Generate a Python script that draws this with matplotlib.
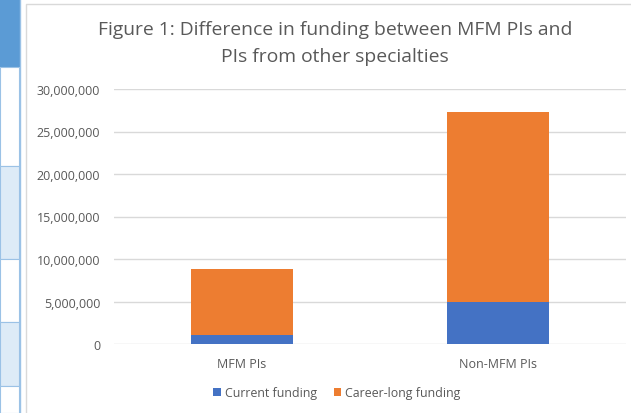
import matplotlib
matplotlib.use("Agg")
import matplotlib.pyplot as plt
from matplotlib.patches import Rectangle
from matplotlib.lines import Line2D
from matplotlib.ticker import FuncFormatter

categories = ["MFM PIs", "Non-MFM PIs"]
current_funding = [1050000, 4900000]
career_long_funding = [7800000, 22400000]
series_names = ["Current funding", "Career-long funding"]
yticks = [0, 5000000, 10000000, 15000000, 20000000, 25000000, 30000000]

W, H = 631, 414
fig = plt.figure(figsize=(W / 100, H / 100), dpi=100)
plt.rcParams['font.family'] = ['Open Sans', 'DejaVu Sans']

def fx(px):
    return px / W

def fy(py):
    return 1 - py / H

# Spreadsheet artifacts at left
fig.patches.append(Rectangle((0, fy(68)), fx(20), 68 / H, transform=fig.transFigure,
                             facecolor="#5B9BD5", edgecolor="none"))
for top, bot, col in [(68, 167, "white"), (167, 260, "#DDEBF7"), (260, 323, "white"),
                      (323, 387, "#DDEBF7"), (387, 414, "white")]:
    fig.patches.append(Rectangle((0, fy(bot)), fx(19), (bot - top) / H, transform=fig.transFigure,
                                 facecolor=col, edgecolor="#9BC2E6", linewidth=0.8))
fig.lines.append(Line2D([fx(19.5), fx(19.5)], [0, 1], transform=fig.transFigure,
                        color="#9BC2E6", linewidth=1.0))
# chart frame
fig.lines.append(Line2D([fx(25.5), fx(25.5), 1], [0, fy(4.5), fy(4.5)], transform=fig.transFigure,
                        color="#D9D9D9", linewidth=1.0))

ax = fig.add_axes([fx(114), fy(345), fx(626) - fx(114), (345 - 90) / H])
x = list(range(len(categories)))
ax.bar(x, current_funding, width=0.4, color="#4472C4", label=series_names[0], zorder=3)
ax.bar(x, career_long_funding, width=0.4, bottom=current_funding, color="#ED7D31",
       label=series_names[1], zorder=3)
ax.set_xlim(-0.5, 1.5)
ax.set_ylim(0, 30000000)
ax.set_yticks(yticks)
ax.yaxis.set_major_formatter(FuncFormatter(lambda v, p: f"{int(v):,}"))
ax.set_xticks(x)
ax.set_xticklabels(categories)
ax.grid(axis="y", color="#D9D9D9", linewidth=1.0, zorder=0)
for s in ax.spines.values():
    s.set_visible(False)
ax.tick_params(axis="both", length=0, colors="#595959", labelsize=9)
ax.tick_params(axis="y", pad=10)
ax.tick_params(axis="x", pad=9)

fig.text(fx(335), fy(30), "Figure 1: Difference in funding between MFM PIs and",
         ha="center", va="center", fontsize=13.9, color="#595959")
fig.text(fx(335), fy(57), "PIs from other specialties",
         ha="center", va="center", fontsize=13.9, color="#595959")

leg = fig.legend(loc="center", bbox_to_anchor=(fx(337), fy(394)), ncol=2, frameon=False,
                 fontsize=8.9, handlelength=0.6, handleheight=0.6, handletextpad=0.3,
                 columnspacing=1.4, labelcolor="#595959")

fig.savefig("out.png", dpi=100)
